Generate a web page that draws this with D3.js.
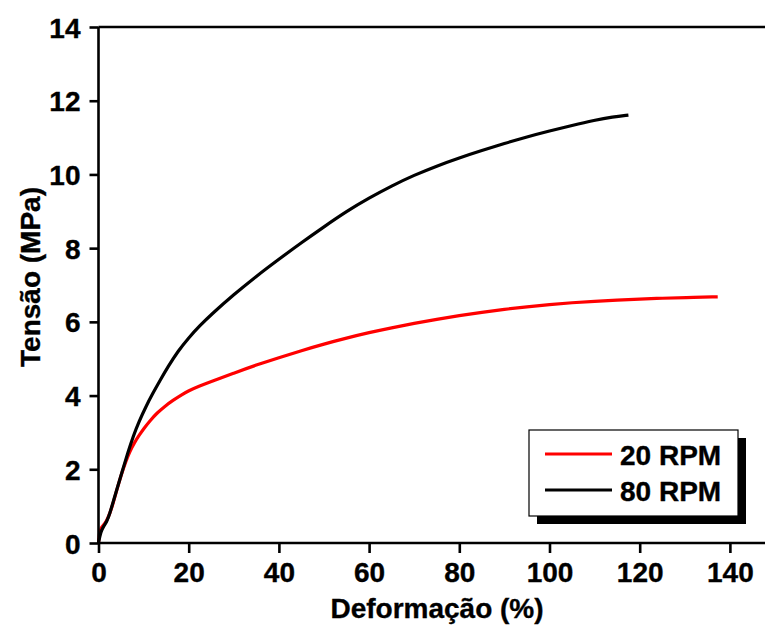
<!DOCTYPE html>
<html>
<head>
<meta charset="utf-8">
<script src="https://cdn.jsdelivr.net/npm/d3@7"></script>
<style>
  html, body { margin: 0; padding: 0; background: #fff; }
  svg { display: block; }
  text { font-family: "Liberation Sans", Arial, sans-serif; font-weight: bold; fill: #000; stroke: #000; stroke-width: 0.35px; }
</style>
</head>
<body>
<svg id="chart" width="765" height="628"></svg>
<script>
// Strain (%) / stress (MPa) curves for the two rotor speeds
const rpm20Strain = [0, 0.2, 0.6, 1.2, 1.8, 2.55, 3.3, 4, 5, 6, 7, 8, 9, 10, 11.5, 13, 14.7, 16.5, 18.4, 20, 22, 25, 30, 35, 40, 45, 50, 55, 60, 65, 70, 75, 80, 85, 90, 95, 100, 105, 110, 115, 120, 125, 130, 137.3];
const rpm20Stress = [0, 0.3, 0.42, 0.5, 0.6, 0.81, 1.1, 1.42, 1.83, 2.2, 2.5, 2.73, 2.92, 3.1, 3.33, 3.53, 3.71, 3.87, 4.02, 4.13, 4.24, 4.38, 4.61, 4.83, 5.03, 5.22, 5.4, 5.56, 5.71, 5.84, 5.96, 6.07, 6.17, 6.26, 6.34, 6.41, 6.47, 6.52, 6.56, 6.59, 6.62, 6.64, 6.66, 6.68];

const rpm80Strain = [0, 0.5, 1.2, 1.8, 2.5, 3.2, 4.3, 5.4, 6.5, 7.7, 9, 10.5, 12, 13.5, 15.5, 17.6, 20, 22.5, 25, 30, 35, 40, 45, 50, 55, 60, 65, 70, 75, 80, 85, 90, 95, 100, 105, 110, 114, 117.5];
const rpm80Stress = [0, 0.31, 0.47, 0.57, 0.8, 1.09, 1.55, 2.0, 2.45, 2.9, 3.3, 3.7, 4.05, 4.38, 4.8, 5.2, 5.57, 5.9, 6.2, 6.74, 7.24, 7.7, 8.15, 8.58, 9.0, 9.36, 9.69, 9.98, 10.23, 10.45, 10.65, 10.84, 11.02, 11.18, 11.33, 11.47, 11.56, 11.61];

const seriesNames = ["20 RPM", "80 RPM"];
const seriesColors = ["#ff0000", "#000000"];

const xTicks = [0, 20, 40, 60, 80, 100, 120, 140];
const yTicks = [0, 2, 4, 6, 8, 10, 12, 14];

const xTitle = "Deformação (%)";
const yTitle = "Tensão (MPa)";

const series = [
  { name: seriesNames[0], color: seriesColors[0], pts: rpm20Strain.map((x, i) => [x, rpm20Stress[i]]) },
  { name: seriesNames[1], color: seriesColors[1], pts: rpm80Strain.map((x, i) => [x, rpm80Stress[i]]) }
];

const svg = d3.select("#chart");

const x = d3.scaleLinear().domain([0, 150]).range([98.5, 775]);
const y = d3.scaleLinear().domain([0, 14]).range([543, 27]);

const axisW = 2.6;

// Curves
const line = d3.line().x(d => x(d[0])).y(d => y(d[1])).curve(d3.curveBasis);
svg.append("g").selectAll("path").data(series).join("path")
  .attr("d", d => line(d.pts))
  .attr("fill", "none")
  .attr("stroke", d => d.color)
  .attr("stroke-width", 3.2)
  .attr("stroke-linejoin", "round");

// Top frame line
svg.append("line")
  .attr("x1", x(0)).attr("x2", x(150))
  .attr("y1", y(14)).attr("y2", y(14))
  .attr("stroke", "#000").attr("stroke-width", axisW);

// X axis
const xAxis = svg.append("g")
  .attr("transform", `translate(0,${y(0)})`)
  .call(d3.axisBottom(x).tickValues(xTicks).tickSize(10).tickPadding(9).tickFormat(d3.format("d")));
xAxis.select(".domain").attr("stroke-width", axisW).attr("d", `M${x(0)},0H${x(150)}`);
xAxis.selectAll(".tick line").attr("stroke-width", axisW);
xAxis.selectAll(".tick text").attr("font-size", 28).attr("font-family", null).attr("dy", "0.71em");

// Y axis
const yAxis = svg.append("g")
  .attr("transform", `translate(${x(0)},0)`)
  .call(d3.axisLeft(y).tickValues(yTicks).tickSize(9).tickPadding(9).tickFormat(d3.format("d")));
yAxis.select(".domain").attr("stroke-width", axisW).attr("d", `M0,${y(0)}V${y(14)}`);
yAxis.selectAll(".tick line").attr("stroke-width", axisW);
yAxis.selectAll(".tick text").attr("font-size", 28).attr("font-family", null).attr("dy", "0.36em");

// Axis titles
svg.append("text")
  .attr("x", 437).attr("y", 618)
  .attr("text-anchor", "middle")
  .attr("font-size", 28)
  .text(xTitle);

svg.append("text")
  .attr("transform", `translate(40,277) rotate(-90)`)
  .attr("text-anchor", "middle")
  .attr("font-size", 28)
  .text(yTitle);

// Legend with drop shadow
const lg = svg.append("g").attr("transform", "translate(529,430)");
const lw = 209, lh = 86;
lg.append("rect").attr("x", 8).attr("y", 8).attr("width", lw).attr("height", lh).attr("fill", "#000");
lg.append("rect").attr("x", 0).attr("y", 0).attr("width", lw).attr("height", lh)
  .attr("fill", "#fff").attr("stroke", "#000").attr("stroke-width", 1.2);
series.forEach((s, i) => {
  const cy = 24 + i * 36;
  lg.append("line").attr("x1", 16).attr("x2", 83).attr("y1", cy).attr("y2", cy)
    .attr("stroke", s.color).attr("stroke-width", 3.2);
  lg.append("text").attr("x", 91).attr("y", cy + 11).attr("font-size", 28).text(s.name);
});
</script>
</body>
</html>
